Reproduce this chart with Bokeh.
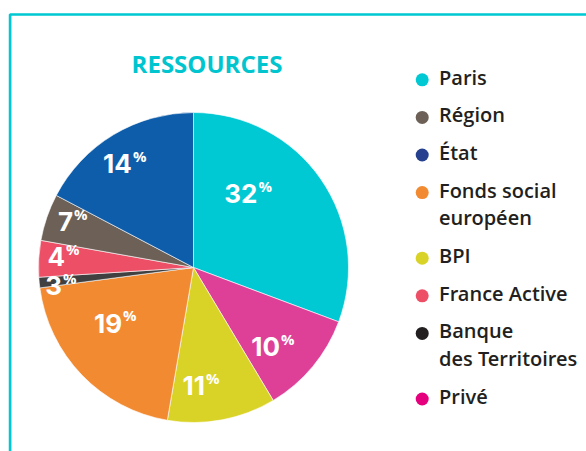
import numpy as np
from bokeh.plotting import figure
from bokeh.models import Range1d, ColumnDataSource
from bokeh.core.properties import value
from bokeh.embed import file_html
from bokeh.resources import INLINE

# ---------------- data ----------------
title = "RESSOURCES"
categories = ["Paris", "Région", "État", "Fonds social\neuropéen", "BPI",
              "France Active", "Banque\ndes Territoires", "Privé"]
pct_labels = [32, 7, 14, 19, 11, 4, 3, 10]           # printed percentages
shares = [30.7, 4.9, 17.3, 20.2, 11.3, 3.8, 1.1, 10.7]  # drawn slice sizes (%)
pie_order = ["Paris", "Privé", "BPI", "Fonds social\neuropéen",
             "Banque\ndes Territoires", "France Active", "Région", "État"]

# ---------------- styles / layout ----------------
slice_colors = {"Paris": "#00C9D3", "Région": "#6D6157", "État": "#0E5DAA",
                "Fonds social\neuropéen": "#F28A31", "BPI": "#DAD327",
                "France Active": "#EC4F66", "Banque\ndes Territoires": "#404040",
                "Privé": "#DE3F97"}
dot_colors = {"Paris": "#00C9D3", "Région": "#6D6157", "État": "#24408E",
              "Fonds social\neuropéen": "#F28A31", "BPI": "#DAD327",
              "France Active": "#EC4F66", "Banque\ndes Territoires": "#231F20",
              "Privé": "#E5007D"}
label_dtheta = {"Paris": -14.4, "Privé": 2.4, "BPI": 4.8, "Fonds social\neuropéen": 5.9,
                "Banque\ndes Territoires": -2.2, "France Active": 1.7, "Région": 2.1,
                "État": 0.8}
label_r = {"Paris": 98.5, "Privé": 117.5, "BPI": 118.6, "Fonds social\neuropéen": 90.1,
           "Banque\ndes Territoires": 132.2, "France Active": 128.5, "Région": 128.5,
           "État": 121.0}

W, H = 586, 451
CX, CY, R = 193, 184, 155
TDY = 9.0  # baseline correction for text

p = figure(width=W, height=H, x_range=Range1d(0, W), y_range=Range1d(0, H),
           output_backend="svg", toolbar_location=None, min_border=0,
           outline_line_color=None, background_fill_color="white")
p.axis.visible = False
p.grid.visible = False

# frame
p.quad(left=[9.6], right=[W + 50], top=[437], bottom=[-50], fill_color=None,
       line_color="#00C8D2", line_width=2.7)

# pie
share_map = dict(zip(categories, shares))
pct_map = dict(zip(categories, pct_labels))
vals = np.array([share_map[c] for c in pie_order]) / 100.0
cum_end = np.cumsum(vals)
cum_start = cum_end - vals
src = ColumnDataSource(dict(
    start=np.pi / 2 - 2 * np.pi * cum_start,
    end=np.pi / 2 - 2 * np.pi * cum_end,
    color=[slice_colors[c] for c in pie_order],
))
p.wedge(x=CX, y=CY, radius=R, start_angle="start", end_angle="end",
        direction="clock", fill_color="color", line_color="white",
        line_width=0.6, source=src)

# slice labels
mid_deg = (cum_start + vals / 2) * 360.0
theta = np.radians(mid_deg + np.array([label_dtheta[c] for c in pie_order]))
rr = np.array([label_r[c] for c in pie_order])
ax = CX + rr * np.sin(theta)
ay = CY + rr * np.cos(theta)
p.text(x=ax - 0.5, y=ay - 9.5 + TDY, text=[str(pct_map[c]) for c in pie_order],
       text_font=value("Inter"), text_font_style="bold", text_font_size="26px",
       text_color="white", text_align="right", text_baseline="alphabetic")
p.text(x=ax + 0.5, y=ay - 1.5 + TDY, text=["%"] * len(pie_order),
       text_font=value("Open Sans"), text_font_style="bold", text_font_size="15px",
       text_color="white", text_align="left", text_baseline="alphabetic")

# title
p.text(x=[206.5], y=[379.3 + TDY], text=[title], text_font=value("Open Sans"),
       text_font_style="bold", text_font_size="24px", text_color="#00C5CF",
       text_align="center", text_baseline="alphabetic")

# legend
dot_x, text_x = 421.7, 438.5
step, extra = 37.6, 28.0
y0_page = 79.3
dx_, dy_, dc_ = [], [], []
tx_, ty_, tt_ = [], [], []
extra_lines = 0
for i, c in enumerate(categories):
    lines = c.split("\n")
    yp = y0_page + step * i + extra * extra_lines
    dx_.append(dot_x); dy_.append(H - yp); dc_.append(dot_colors[c])
    for j, ln in enumerate(lines):
        tx_.append(text_x); ty_.append(H - (yp + 6.5 + 27.5 * j) + TDY); tt_.append(ln)
    extra_lines += len(lines) - 1
p.scatter(x=dx_, y=dy_, size=13, marker="circle", fill_color=dc_, line_color=None)
p.text(x=tx_, y=ty_, text=tt_, text_font=value("Open Sans SemiBold"),
       text_font_style="normal", text_font_size="20px", text_color="#231F20",
       text_align="left", text_baseline="alphabetic")

open("out.html", "w").write(file_html(p, INLINE))
